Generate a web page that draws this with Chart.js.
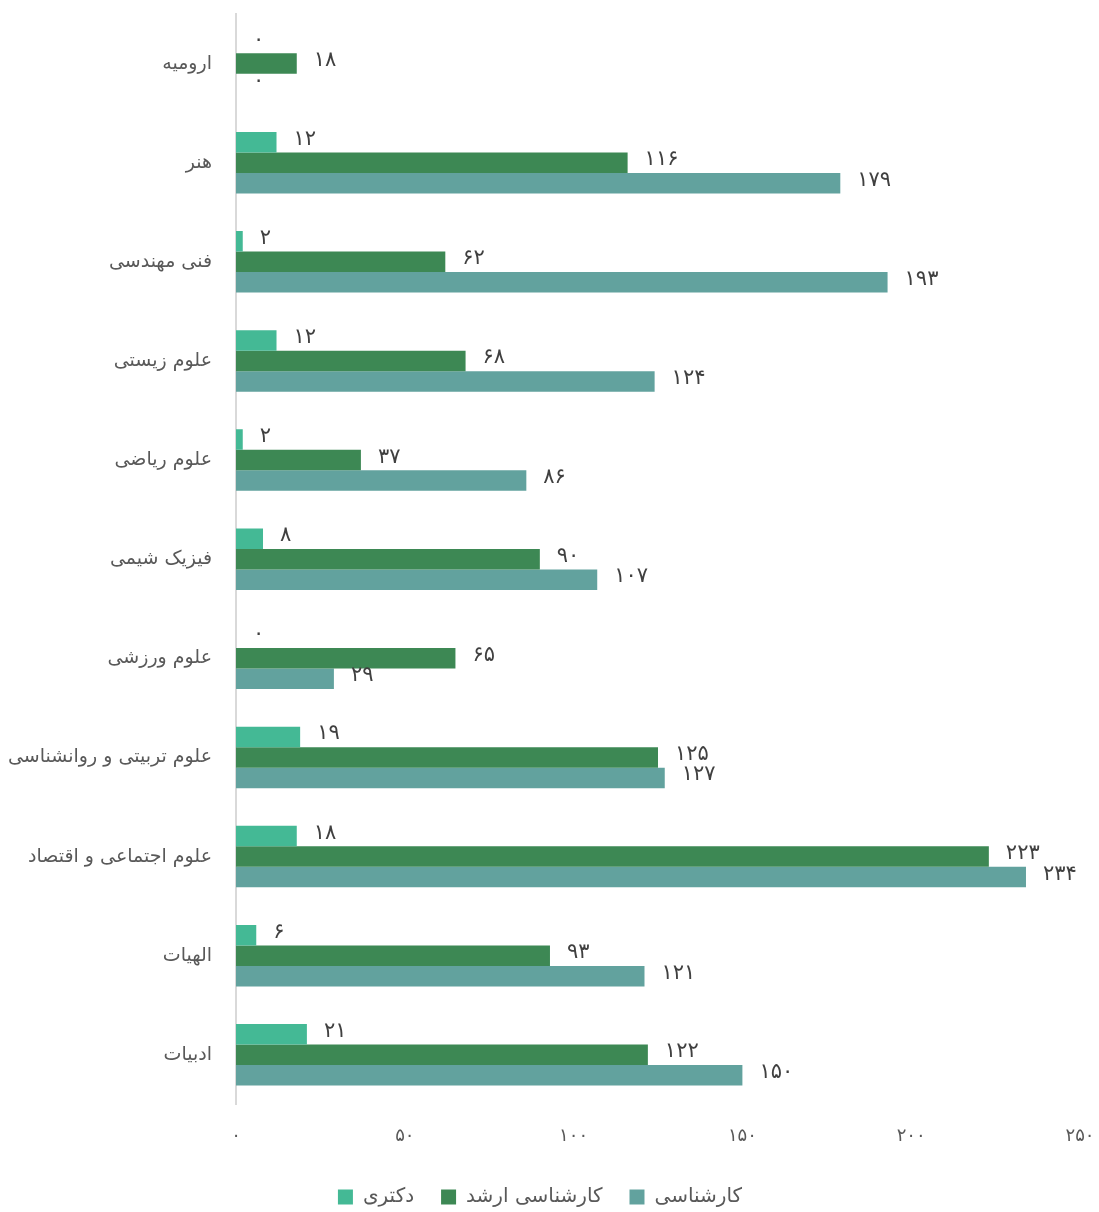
<!DOCTYPE html>
<html>
<head>
<meta charset="utf-8">
<script src="https://cdn.jsdelivr.net/npm/chart.js@4"></script>
<style>
  html, body { margin: 0; background: #fff; overflow: hidden; }
  #wrap { width: 1099px; height: 1212px; position: relative; }
  canvas { display: block; }
</style>
</head>
<body>
<div id="wrap"><canvas id="barChart"></canvas></div>
<script>
const categories = ['ارومیه', 'هنر', 'فنی مهندسی', 'علوم زیستی', 'علوم ریاضی', 'فیزیک شیمی',
    'علوم ورزشی', 'علوم تربیتی و روانشناسی', 'علوم اجتماعی و اقتصاد', 'الهیات', 'ادبیات'];
const doctorate = [0, 12, 2, 12, 2, 8, 0, 19, 18, 6, 21];
const masters = [18, 116, 62, 68, 37, 90, 65, 125, 223, 93, 122];
const bachelors = [0, 179, 193, 124, 86, 107, 29, 127, 234, 121, 150];
const xTicks = [0, 50, 100, 150, 200, 250];

const fontFamily = "'DejaVu Sans', 'Noto Sans', sans-serif";

// ارقام فارسی
function fa(n) {
    return String(n).replace(/\d/g, d => '۰۱۲۳۴۵۶۷۸۹'[d]);
}

// برچسب مقدار در انتهای هر میله
const valueLabels = {
    id: 'valueLabels',
    afterDatasetsDraw(chart) {
        const c = chart.ctx;
        c.save();
        c.font = '21px ' + fontFamily;
        c.fillStyle = '#404040';
        c.textAlign = 'left';
        c.textBaseline = 'middle';
        chart.data.datasets.forEach((ds, i) => {
            chart.getDatasetMeta(i).data.forEach((bar, j) => {
                c.fillText(fa(ds.data[j]), bar.x + 17, bar.y - 3);
            });
        });
        c.restore();
    }
};

const ctx = document.getElementById('barChart').getContext('2d');

new Chart(ctx, {
    type: 'bar',
    data: {
        labels: categories,
        datasets: [
            {
                label: 'دکتری',
                data: doctorate,
                backgroundColor: '#44b995',
                categoryPercentage: 0.62,
                barPercentage: 1.0
            },
            {
                label: 'کارشناسی ارشد',
                data: masters,
                backgroundColor: '#3d8854',
                categoryPercentage: 0.62,
                barPercentage: 1.0
            },
            {
                label: 'کارشناسی',
                data: bachelors,
                backgroundColor: '#62a29e',
                categoryPercentage: 0.62,
                barPercentage: 1.0
            }
        ]
    },
    options: {
        indexAxis: 'y',
        responsive: true,
        maintainAspectRatio: false,
        animation: false,
        layout: { padding: { top: 14, right: 19, left: 0, bottom: -5 } },
        plugins: {
            legend: {
                position: 'bottom',
                labels: {
                    boxWidth: 15,
                    boxHeight: 15,
                    padding: 27,
                    color: '#595959',
                    font: { family: fontFamily, size: 20 }
                }
            },
            tooltip: { enabled: false }
        },
        scales: {
            x: {
                min: 0,
                max: 250,
                afterBuildTicks(axis) {
                    axis.ticks = xTicks.map(v => ({ value: v }));
                },
                afterFit(axis) {
                    axis.paddingLeft = 0;
                    axis.paddingRight = 0;
                },
                grid: { display: false },
                border: { display: false },
                ticks: {
                    padding: 13,
                    color: '#595959',
                    font: { family: fontFamily, size: 18 },
                    callback: v => fa(v)
                }
            },
            y: {
                afterFit(axis) {
                    axis.width = 236;
                    axis.paddingTop = 0;
                    axis.paddingBottom = 0;
                },
                grid: { display: false },
                border: { display: true, color: '#d9d9d9', width: 2 },
                ticks: {
                    padding: 16,
                    color: '#595959',
                    font: { family: fontFamily, size: 19 }
                }
            }
        }
    },
    plugins: [valueLabels]
});
</script>
</body>
</html>
